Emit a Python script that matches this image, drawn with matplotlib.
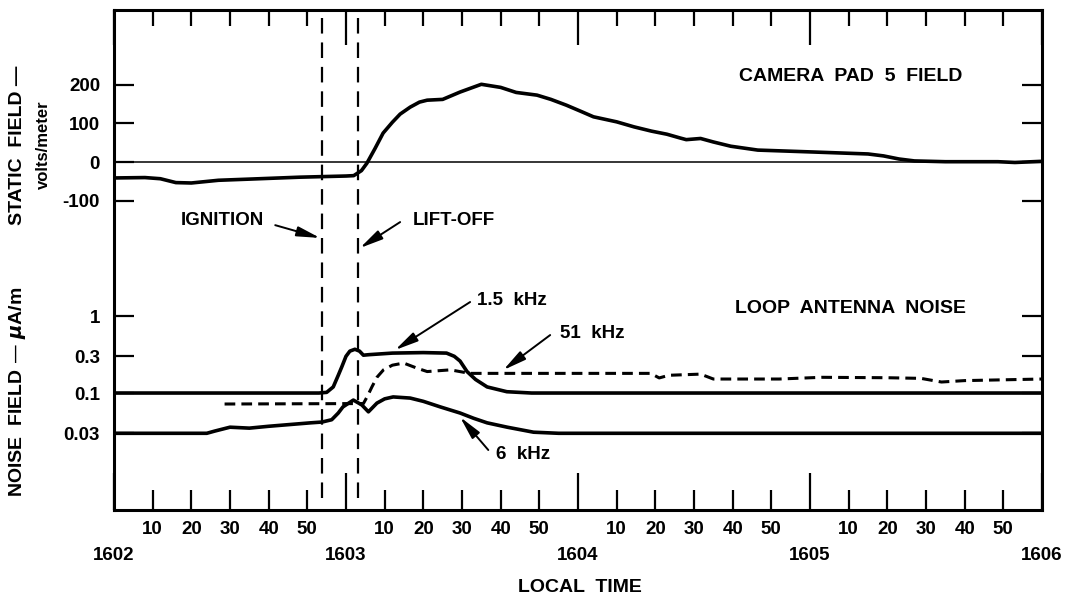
import matplotlib
matplotlib.use('Agg')
import matplotlib.pyplot as plt
from matplotlib.ticker import FixedLocator, FixedFormatter, NullLocator

plt.rcParams['font.family'] = ['Liberation Sans', 'DejaVu Sans']
plt.rcParams['font.weight'] = 'bold'
plt.rcParams['axes.unicode_minus'] = False

# time axis: seconds after 16:02:00 local time
hour_labels = ['1602', '1603', '1604', '1605', '1606']
minute_labels = ['10', '20', '30', '40', '50']

# camera pad 5 static field, volts/meter
static_t = [0, 8, 12, 16, 20, 27, 35, 48, 60, 62, 64, 65.4, 67.5, 69.6, 72, 74,
            76.6, 79, 81, 85, 89.5, 95, 100, 104, 109.4, 113, 117, 121, 124,
            130, 134.5, 139, 143, 146.5, 148, 151.7, 155, 159.5, 166.5, 181,
            195, 199, 203, 207, 215, 228.6, 233, 240]
static_v = [-41, -40, -43, -53, -54, -47, -44, -39, -36, -35, -22, -3, 35, 75,
            103, 124, 142, 155, 160, 162, 181, 201, 193, 180, 173, 162, 147,
            130, 117, 104, 91, 80, 72, 62, 58, 61, 52, 41, 31, 26, 21, 16, 8,
            3, 1, 1, -1, 2]

# loop antenna noise, microamps/meter
noise_15_t = [0, 53, 55, 56.7, 58, 58.9, 60, 61, 62.3, 63.5, 64.5, 66, 72, 80,
              86, 88, 89.5, 91.3, 93.5, 96.5, 101.6, 108, 240]
noise_15 = [0.1, 0.1, 0.102, 0.12, 0.17, 0.218, 0.3, 0.35, 0.37, 0.35, 0.31,
            0.315, 0.33, 0.335, 0.33, 0.3, 0.26, 0.19, 0.15, 0.12, 0.104, 0.1,
            0.1]

noise_6_t = [0, 24, 26, 30, 35, 40, 50.8, 53.8, 56.3, 58, 59.2, 61.9, 64.1,
             65.8, 68, 70, 72.2, 76.6, 80, 84.4, 89.5, 93, 96.5, 101.7, 108.5,
             115, 240]
noise_6 = [0.03, 0.03, 0.032, 0.036, 0.035, 0.037, 0.041, 0.042, 0.045, 0.055,
           0.066, 0.081, 0.07, 0.057, 0.074, 0.084, 0.089, 0.086, 0.078,
           0.066, 0.055, 0.047, 0.041, 0.036, 0.031, 0.03, 0.03]

noise_51_t = [28.6, 64.5, 65.5, 66.7, 68, 69.7, 72, 74.9, 78.4, 81, 87, 92,
              138.8, 141, 143.5, 151.7, 155, 172, 183, 200, 208.7, 214, 220,
              240]
noise_51 = [0.072, 0.073, 0.09, 0.12, 0.16, 0.2, 0.23, 0.245, 0.21, 0.19, 0.2,
            0.18, 0.18, 0.157, 0.17, 0.176, 0.152, 0.152, 0.16, 0.158, 0.155,
            0.139, 0.145, 0.152]

ignition_t = 53.8
liftoff_t = 63.1

static_ticks = [-100, 0, 100, 200]
noise_ticks = [0.03, 0.1, 0.3, 1]
noise_tick_labels = ['0.03', '0.1', '0.3', '1']

fig = plt.figure(figsize=(10.7, 6.0), dpi=100)
rect = [114 / 1070, 90 / 600, 928 / 1070, 500 / 600]
ax = fig.add_axes(rect)
axn = fig.add_axes(rect, facecolor='none')

# static field panel (linear) occupies the upper part of the box
ax.set_xlim(0, 240)
ax.set_ylim(-899, 393)
for s in ax.spines.values():
    s.set_linewidth(2.2)
axn.set_xlim(0, 240)
axn.set_yscale('log')
axn.set_ylim(10 ** -2.519, 10 ** 3.974)
for s in axn.spines.values():
    s.set_visible(False)

# x ticks: hours as long ticks, every 10 s as short ticks
ax.xaxis.set_major_locator(FixedLocator([0, 60, 120, 180, 240]))
ax.xaxis.set_major_formatter(FixedFormatter(hour_labels))
minor_pos = [m * 60 + s for m in range(4) for s in (10, 20, 30, 40, 50)]
ax.xaxis.set_minor_locator(FixedLocator(minor_pos))
ax.xaxis.set_minor_formatter(FixedFormatter(minute_labels * 4))
ax.tick_params(axis='x', which='major', direction='in', length=27, width=1.6,
               pad=27, labelsize=13.5, top=False)
ax.tick_params(axis='x', which='minor', direction='in', length=14.5, width=1.6,
               pad=8, labelsize=13.5, top=False)

axn.xaxis.set_major_locator(FixedLocator([0, 60, 120, 180, 240]))
axn.xaxis.set_minor_locator(FixedLocator(minor_pos))
axn.tick_params(axis='x', which='major', direction='in', length=25, width=1.6,
                bottom=False, top=True, labelbottom=False)
axn.tick_params(axis='x', which='minor', direction='in', length=11.5, width=1.6,
                bottom=False, top=True, labelbottom=False)

ax.set_yticks(static_ticks)
ax.yaxis.set_minor_locator(NullLocator())
ax.tick_params(axis='y', direction='in', length=14.5, width=1.6, pad=10,
               labelsize=13.5, right=True)

axn.set_yticks(noise_ticks)
axn.set_yticklabels(noise_tick_labels)
axn.yaxis.set_minor_locator(NullLocator())
axn.tick_params(axis='y', which='major', direction='in', length=14.5,
                width=1.6, pad=10, labelsize=13.5, right=True)

# curves
ax.axhline(0, color='black', lw=1.1)
ax.plot(static_t, static_v, color='black', lw=2.6, solid_joinstyle='round')
axn.plot(noise_15_t, noise_15, color='black', lw=2.6, solid_joinstyle='round')
axn.plot(noise_6_t, noise_6, color='black', lw=2.6, solid_joinstyle='round')
axn.plot(noise_51_t, noise_51, color='black', lw=2.2, linestyle=(0, (3.5, 2)))

for t in (ignition_t, liftoff_t):
    ax.axvline(t, ymin=0.024, ymax=1, color='black', lw=1.6,
               linestyle=(0, (7, 4)))

arrow = dict(arrowstyle='-|>,head_length=1.4,head_width=0.3', color='black',
             lw=1.4, shrinkA=0, shrinkB=0, mutation_scale=10)

ax.text(28, -150, 'IGNITION', fontsize=13.5, ha='center', va='center')
ax.annotate('', xy=(53.3, -196), xytext=(41.7, -163), arrowprops=arrow)
ax.text(88, -150, 'LIFT-OFF', fontsize=13.5, ha='center', va='center')
ax.annotate('', xy=(63.6, -222), xytext=(74, -155), arrowprops=arrow)
ax.text(190.6, 220, 'CAMERA  PAD  5  FIELD', fontsize=14, ha='center',
        va='center')

axn.text(190.6, 1.27, 'LOOP  ANTENNA  NOISE', fontsize=14, ha='center',
         va='center')
axn.text(102.9, 1.61, '1.5  kHz', fontsize=13.5, ha='center', va='center')
axn.annotate('', xy=(72.7, 0.362), xytext=(92.1, 1.52), arrowprops=arrow)
axn.text(123.6, 0.60, '51  kHz', fontsize=13.5, ha='center', va='center')
axn.annotate('', xy=(100.7, 0.199), xytext=(112.8, 0.566), arrowprops=arrow)
axn.text(105.7, 0.0157, '6  kHz', fontsize=13.5, ha='center', va='center')
axn.annotate('', xy=(89.5, 0.0488), xytext=(96.8, 0.0182), arrowprops=arrow)

# axis titles
fig.text(18 / 1070, 1 - 145 / 600, 'STATIC  FIELD —', rotation=90,
         ha='center', va='center', fontsize=14)
fig.text(43 / 1070, 1 - 145 / 600, 'volts/meter', rotation=90,
         ha='center', va='center', fontsize=12)
fig.text(18 / 1070, 1 - 392 / 600, 'NOISE  FIELD — $\\mu$A/m', rotation=90,
         ha='center', va='center', fontsize=14)
fig.text(580 / 1070, 1 - 587 / 600, 'LOCAL  TIME', ha='center', va='center',
         fontsize=14)

fig.savefig('out.png', dpi=100)
